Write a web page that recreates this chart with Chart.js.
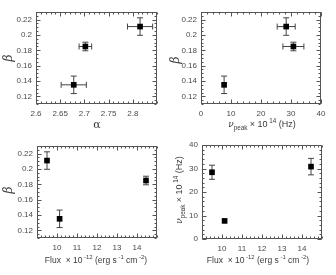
<!DOCTYPE html>
<html>
<head>
<meta charset="utf-8">
<script src="https://cdn.jsdelivr.net/npm/chart.js@4.4.1/dist/chart.umd.min.js"></script>
<style>
html, body { margin: 0; padding: 0; background: #fff; }
#wrap { position: relative; width: 336px; height: 275px; }
.p { position: absolute; }
</style>
</head>
<body>
<div id="wrap">
  <div class="p" style="left:0;top:0;width:168px;height:135px"><canvas id="c1"></canvas></div>
  <div class="p" style="left:168px;top:0;width:168px;height:135px"><canvas id="c2"></canvas></div>
  <div class="p" style="left:0;top:135px;width:168px;height:140px"><canvas id="c3"></canvas></div>
  <div class="p" style="left:168px;top:135px;width:168px;height:140px"><canvas id="c4"></canvas></div>
</div>
<script>
// three observations, same order in every array
const alpha = [2.678, 2.702, 2.815];
const alphaErr = [0.026, 0.013, 0.026];
const beta = [0.135, 0.185, 0.211];
const betaErr = [0.0114, 0.0056, 0.0114];
const nuPeak = [7.7, 30.8, 28.4];
const nuPeakErr = [0.8, 3.5, 3.0];
const flux = [10.13, 14.45, 9.5];
const fluxErr = [0.06, 0.06, 0.06];

// tick labels
const betaTicks = [0.12, 0.14, 0.16, 0.18, 0.2, 0.22];
const betaLabels = ['0.12', '0.14', '0.16', '0.18', '0.2', '0.22'];
const alphaTicks = [2.6, 2.65, 2.7, 2.75, 2.8];
const alphaLabels = ['2.6', '2.65', '2.7', '2.75', '2.8'];
const nuTicks = [0, 10, 20, 30, 40];
const nuLabels = ['0', '10', '20', '30', '40'];
const fluxTicks = [10, 11, 12, 13, 14];
const fluxLabels = ['10', '11', '12', '13', '14'];

const FONT = '"Liberation Sans", Arial, sans-serif';
const SERIF = '"DejaVu Serif", serif';
const AXIS = '#555';

function drawRich(ctx, parts, x, y, size, rot) {
    ctx.save();
    ctx.translate(x, y);
    if (rot) ctx.rotate(-Math.PI / 2);
    ctx.fillStyle = '#3a3a3a';
    ctx.textBaseline = 'middle';
    ctx.textAlign = 'left';
    let total = 0;
    const m = parts.map(p => {
        const fs = p.s ? size * 0.7 : size;
        const font = (p.i ? 'italic ' : '') + fs + 'px ' + (p.f || FONT);
        ctx.font = font;
        const w = ctx.measureText(p.t).width;
        total += w;
        return { p, font, w };
    });
    let cx = -total / 2;
    m.forEach(({ p, font, w }) => {
        ctx.font = font;
        const dy = p.s === 'sub' ? size * 0.35 : p.s === 'sup' ? -size * 0.4 : 0;
        ctx.fillText(p.t, cx, dy);
        cx += w;
    });
    ctx.restore();
}

// frame, inward major/minor ticks, error bars and titles
const paperPlugin = {
    id: 'paper',
    beforeDatasetsDraw(chart) {
        const o = chart.options.plugins.paper;
        const ctx = chart.ctx;
        const a = chart.chartArea;
        const xs = chart.scales.x, ys = chart.scales.y;
        const L = Math.round(a.left) + 0.5, R = Math.round(a.right) - 0.5;
        const T = Math.round(a.top) + 0.5, B = Math.round(a.bottom) - 0.5;
        ctx.save();
        ctx.strokeStyle = AXIS;
        ctx.lineWidth = 1;
        ctx.strokeRect(L, T, R - L, B - T);
        ctx.beginPath();
        const tickX = (v, len) => {
            const px = Math.round(xs.getPixelForValue(v)) + 0.5;
            ctx.moveTo(px, B); ctx.lineTo(px, B - len);
            ctx.moveTo(px, T); ctx.lineTo(px, T + len);
        };
        const tickY = (v, len) => {
            const py = Math.round(ys.getPixelForValue(v)) + 0.5;
            ctx.moveTo(L, py); ctx.lineTo(L + len, py);
            ctx.moveTo(R, py); ctx.lineTo(R - len, py);
        };
        for (let v = xs.min; v <= xs.max + 1e-9; v += o.xMinor) tickX(v, 2);
        for (let v = ys.min; v <= ys.max + 1e-9; v += o.yMinor) tickY(v, 2);
        o.xMajor.forEach(v => tickX(v, 4));
        o.yMajor.forEach(v => tickY(v, 4));
        ctx.stroke();

        // error bars
        const pts = chart.data.datasets[0].data;
        ctx.strokeStyle = '#444';
        ctx.beginPath();
        pts.forEach((p, i) => {
            const cx = xs.getPixelForValue(p.x), cy = ys.getPixelForValue(p.y);
            const x1 = xs.getPixelForValue(p.x - o.xErr[i]), x2 = xs.getPixelForValue(p.x + o.xErr[i]);
            const y1 = ys.getPixelForValue(p.y - o.yErr[i]), y2 = ys.getPixelForValue(p.y + o.yErr[i]);
            if (x2 - x1 > 7) {
                ctx.moveTo(x1, cy); ctx.lineTo(x2, cy);
                ctx.moveTo(x1, cy - 3); ctx.lineTo(x1, cy + 3);
                ctx.moveTo(x2, cy - 3); ctx.lineTo(x2, cy + 3);
            }
            if (y1 - y2 > 7) {
                ctx.moveTo(cx, y1); ctx.lineTo(cx, y2);
                ctx.moveTo(cx - 3, y1); ctx.lineTo(cx + 3, y1);
                ctx.moveTo(cx - 3, y2); ctx.lineTo(cx + 3, y2);
            }
        });
        ctx.stroke();
        ctx.restore();
    },
    afterDraw(chart) {
        const o = chart.options.plugins.paper;
        o.titles.forEach(t => drawRich(chart.ctx, t.parts, t.x, t.y, t.size, t.rot));
    }
};

const betaTitle = [{ t: 'β', i: true, f: SERIF }];
const nuTitle = [{ t: 'ν', i: true, f: SERIF }, { t: 'peak', s: 'sub' },
    { t: ' × 10' }, { t: ' 14', s: 'sup' }, { t: ' (Hz)' }];
const fluxTitle = [{ t: 'Flux  × 10' }, { t: ' -12', s: 'sup' }, { t: ' (erg s' }, { t: ' -1', s: 'sup' },
    { t: ' cm' }, { t: ' -2', s: 'sup' }, { t: ')' }];

function makePanel(id, p) {
    const box = document.getElementById(id).parentNode;
    const W = box.clientWidth, H = box.clientHeight;
    const fixTicks = (vals) => (s) => { s.ticks = vals.map(v => ({ value: v })); };
    new Chart(document.getElementById(id), {
        type: 'scatter',
        data: {
            datasets: [{
                data: p.xs.map((x, i) => ({ x: x, y: p.ys[i] })),
                backgroundColor: '#000',
                borderColor: '#000',
                borderWidth: 0,
                pointStyle: 'rect',
                pointRadius: 4,
                pointHoverRadius: 4
            }]
        },
        options: {
            responsive: true,
            maintainAspectRatio: false,
            animation: false,
            events: [],
            layout: { padding: { top: p.area.top, right: W - p.area.right, left: 0, bottom: 0 } },
            scales: {
                x: {
                    type: 'linear', min: p.xRange[0], max: p.xRange[1],
                    grid: { display: false, drawTicks: false }, border: { display: false },
                    afterBuildTicks: fixTicks(p.xTicks),
                    afterFit: (s) => { s.height = H - p.area.bottom; },
                    ticks: {
                        padding: 5, color: '#4a4a4a', font: { family: FONT, size: 8 },
                        maxRotation: 0, autoSkip: false,
                        callback: (v) => p.xLabels[p.xTicks.indexOf(v)]
                    }
                },
                y: {
                    type: 'linear', min: p.yRange[0], max: p.yRange[1],
                    grid: { display: false, drawTicks: false }, border: { display: false },
                    afterBuildTicks: fixTicks(p.yTicks),
                    afterFit: (s) => { s.width = p.area.left; },
                    ticks: {
                        padding: 4, color: '#4a4a4a', font: { family: FONT, size: 8 },
                        autoSkip: false,
                        callback: (v) => p.yLabels[p.yTicks.indexOf(v)]
                    }
                }
            },
            plugins: {
                legend: { display: false },
                tooltip: { enabled: false },
                paper: {
                    xMinor: p.xMinor, yMinor: p.yMinor, xMajor: p.xTicks, yMajor: p.yTicks,
                    xErr: p.xErr, yErr: p.yErr, titles: p.titles
                }
            }
        },
        plugins: [paperPlugin]
    });
}

makePanel('c1', {
    xs: alpha, ys: beta, xErr: alphaErr, yErr: betaErr,
    xRange: [2.6, 2.85], yRange: [0.11, 0.23],
    xTicks: alphaTicks, xLabels: alphaLabels, yTicks: betaTicks, yLabels: betaLabels,
    xMinor: 0.01, yMinor: 0.005,
    area: { left: 36, right: 157, top: 12, bottom: 104 },
    titles: [
        { parts: betaTitle, x: 9, y: 58, size: 12, rot: true },
        { parts: [{ t: 'α', f: SERIF }], x: 97, y: 125, size: 11 }
    ]
});
makePanel('c2', {
    xs: nuPeak, ys: beta, xErr: nuPeakErr, yErr: betaErr,
    xRange: [0, 40], yRange: [0.11, 0.23],
    xTicks: nuTicks, xLabels: nuLabels, yTicks: betaTicks, yLabels: betaLabels,
    xMinor: 2, yMinor: 0.005,
    area: { left: 33, right: 153, top: 12, bottom: 104 },
    titles: [
        { parts: betaTitle, x: 8, y: 60, size: 12, rot: true },
        { parts: nuTitle, x: 94, y: 125, size: 9 }
    ]
});
makePanel('c3', {
    xs: flux, ys: beta, xErr: fluxErr, yErr: betaErr,
    xRange: [9, 15], yRange: [0.11, 0.23],
    xTicks: fluxTicks, xLabels: fluxLabels, yTicks: betaTicks, yLabels: betaLabels,
    xMinor: 0.2, yMinor: 0.005,
    area: { left: 37, right: 157, top: 11, bottom: 103 },
    titles: [
        { parts: betaTitle, x: 9, y: 55, size: 12, rot: true },
        { parts: fluxTitle, x: 96, y: 126, size: 8.5 }
    ]
});
makePanel('c4', {
    xs: flux, ys: nuPeak, xErr: fluxErr, yErr: nuPeakErr,
    xRange: [9, 15], yRange: [0, 40],
    xTicks: fluxTicks, xLabels: fluxLabels, yTicks: nuTicks, yLabels: nuLabels,
    xMinor: 0.2, yMinor: 2,
    area: { left: 34, right: 154, top: 10, bottom: 104 },
    titles: [
        { parts: nuTitle, x: 12, y: 55, size: 9, rot: true },
        { parts: fluxTitle, x: 90, y: 126, size: 8.5 }
    ]
});
</script>
</body>
</html>
